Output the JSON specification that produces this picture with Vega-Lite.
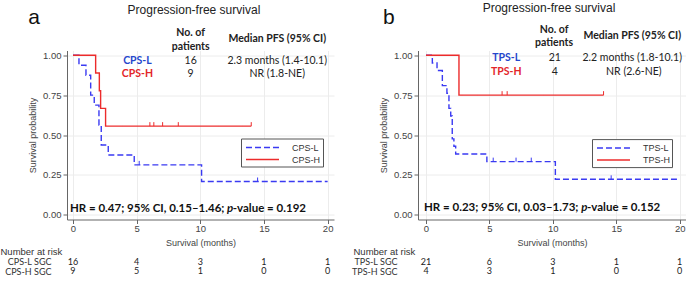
{
  "$schema": "https://vega.github.io/schema/vega-lite/v6.json",
  "padding": {"top": 1.5, "left": 0, "right": 0, "bottom": 0},
  "background": "white",
  "datasets": {
    "kmA": [
      {"group": "CPS-L", "t": 0, "s": 1},
      {"group": "CPS-L", "t": 0.47, "s": 0.9375},
      {"group": "CPS-L", "t": 1.02, "s": 0.875},
      {"group": "CPS-L", "t": 1.39, "s": 0.75},
      {"group": "CPS-L", "t": 1.67, "s": 0.6875},
      {"group": "CPS-L", "t": 2.04, "s": 0.5625},
      {"group": "CPS-L", "t": 2.22, "s": 0.4375},
      {"group": "CPS-L", "t": 2.77, "s": 0.375},
      {"group": "CPS-L", "t": 4.81, "s": 0.3125},
      {"group": "CPS-L", "t": 10.1, "s": 0.2083},
      {"group": "CPS-L", "t": 20, "s": 0.2083},
      {"group": "CPS-H", "t": 0, "s": 1},
      {"group": "CPS-H", "t": 1.78, "s": 0.8889},
      {"group": "CPS-H", "t": 2.07, "s": 0.7778},
      {"group": "CPS-H", "t": 2.17, "s": 0.6667},
      {"group": "CPS-H", "t": 2.56, "s": 0.5556},
      {"group": "CPS-H", "t": 14.0, "s": 0.5556}
    ],
    "censA": [
      {"group": "CPS-H", "t": 6.04, "s": 0.5556},
      {"group": "CPS-H", "t": 6.35, "s": 0.5556},
      {"group": "CPS-H", "t": 7.04, "s": 0.5556},
      {"group": "CPS-H", "t": 8.27, "s": 0.5556},
      {"group": "CPS-H", "t": 14.0, "s": 0.5556},
      {"group": "CPS-L", "t": 5.2, "s": 0.3125},
      {"group": "CPS-L", "t": 14.5, "s": 0.2083}
    ],
    "kmB": [
      {"group": "TPS-L", "t": 0, "s": 1},
      {"group": "TPS-L", "t": 0.5, "s": 0.952},
      {"group": "TPS-L", "t": 0.87, "s": 0.905},
      {"group": "TPS-L", "t": 1.29, "s": 0.81},
      {"group": "TPS-L", "t": 1.65, "s": 0.762},
      {"group": "TPS-L", "t": 1.81, "s": 0.667},
      {"group": "TPS-L", "t": 1.95, "s": 0.619},
      {"group": "TPS-L", "t": 2.07, "s": 0.476},
      {"group": "TPS-L", "t": 2.2, "s": 0.429},
      {"group": "TPS-L", "t": 2.34, "s": 0.381},
      {"group": "TPS-L", "t": 4.8, "s": 0.333},
      {"group": "TPS-L", "t": 10.2, "s": 0.222},
      {"group": "TPS-L", "t": 20, "s": 0.222},
      {"group": "TPS-H", "t": 0, "s": 1},
      {"group": "TPS-H", "t": 2.6, "s": 0.75},
      {"group": "TPS-H", "t": 14.0, "s": 0.75}
    ],
    "censB": [
      {"group": "TPS-H", "t": 6.0, "s": 0.75},
      {"group": "TPS-H", "t": 6.4, "s": 0.75},
      {"group": "TPS-H", "t": 14.0, "s": 0.75},
      {"group": "TPS-L", "t": 5.3, "s": 0.333},
      {"group": "TPS-L", "t": 7.1, "s": 0.333},
      {"group": "TPS-L", "t": 8.3, "s": 0.333},
      {"group": "TPS-L", "t": 14.6, "s": 0.222}
    ],
    "tabA": [
      {"kind": "letter", "t": -3.06, "s": 1.197, "label": "a"},
      {"kind": "title", "t": 9.5, "s": 1.285, "label": "Progression-free survival"},
      {"kind": "head", "t": 9.24, "s": 1.139, "label": "No. of"},
      {"kind": "head", "t": 9.24, "s": 1.055, "label": "patients"},
      {"kind": "head", "t": 16.04, "s": 1.101, "label": "Median PFS (95% CI)"},
      {"kind": "gL", "t": 5.06, "s": 0.962, "label": "CPS-L"},
      {"kind": "gH", "t": 5.06, "s": 0.884, "label": "CPS-H"},
      {"kind": "body", "t": 9.24, "s": 0.962, "label": "16"},
      {"kind": "body", "t": 9.24, "s": 0.884, "label": "9"},
      {"kind": "body", "t": 16.04, "s": 0.962, "label": "2.3 months (1.4-10.1)"},
      {"kind": "body", "t": 16.04, "s": 0.884, "label": "NR (1.8-NE)"},
      {"kind": "hr", "t": -0.24, "s": 0.038, "label": "HR = 0.47; 95% CI, 0.15–1.46;"},
      {"kind": "hrp", "t": 12.1, "s": 0.038, "label": "p"},
      {"kind": "hrv", "t": 12.55, "s": 0.038, "label": "-value = 0.192"}
    ],
    "tabB": [
      {"kind": "letter", "t": -2.92, "s": 1.197, "label": "b"},
      {"kind": "title", "t": 9.7, "s": 1.296, "label": "Progression-free survival"},
      {"kind": "head", "t": 10.1, "s": 1.16, "label": "No. of"},
      {"kind": "head", "t": 10.1, "s": 1.076, "label": "patients"},
      {"kind": "head", "t": 16.26, "s": 1.122, "label": "Median PFS (95% CI)"},
      {"kind": "gL", "t": 6.33, "s": 0.982, "label": "TPS-L"},
      {"kind": "gH", "t": 6.33, "s": 0.898, "label": "TPS-H"},
      {"kind": "body", "t": 10.15, "s": 0.982, "label": "21"},
      {"kind": "body", "t": 10.15, "s": 0.898, "label": "4"},
      {"kind": "body", "t": 16.26, "s": 0.982, "label": "2.2 months (1.8-10.1)"},
      {"kind": "body", "t": 16.39, "s": 0.898, "label": "NR (2.6-NE)"},
      {"kind": "hr", "t": -0.16, "s": 0.04, "label": "HR = 0.23; 95% CI, 0.03–1.73;"},
      {"kind": "hrp", "t": 12.25, "s": 0.04, "label": "p"},
      {"kind": "hrv", "t": 12.7, "s": 0.04, "label": "-value = 0.152"}
    ],
    "riskA": [
      {"row": "CPS-L SGC", "t": 0, "n": 16},
      {"row": "CPS-L SGC", "t": 5, "n": 4},
      {"row": "CPS-L SGC", "t": 10, "n": 3},
      {"row": "CPS-L SGC", "t": 15, "n": 1},
      {"row": "CPS-L SGC", "t": 20, "n": 1},
      {"row": "CPS-H SGC", "t": 0, "n": 9},
      {"row": "CPS-H SGC", "t": 5, "n": 5},
      {"row": "CPS-H SGC", "t": 10, "n": 1},
      {"row": "CPS-H SGC", "t": 15, "n": 0},
      {"row": "CPS-H SGC", "t": 20, "n": 0}
    ],
    "riskB": [
      {"row": "TPS-L SGC", "t": 0, "n": 21},
      {"row": "TPS-L SGC", "t": 5, "n": 6},
      {"row": "TPS-L SGC", "t": 10, "n": 3},
      {"row": "TPS-L SGC", "t": 15, "n": 1},
      {"row": "TPS-L SGC", "t": 20, "n": 1},
      {"row": "TPS-H SGC", "t": 0, "n": 4},
      {"row": "TPS-H SGC", "t": 5, "n": 3},
      {"row": "TPS-H SGC", "t": 10, "n": 1},
      {"row": "TPS-H SGC", "t": 15, "n": 0},
      {"row": "TPS-H SGC", "t": 20, "n": 0}
    ]
  },
  "columns": 2,
  "align": "each",
  "spacing": {"row": -1.5, "column": 17},
  "resolve": {"scale": {"color": "independent", "strokeDash": "independent"}, "legend": {"color": "independent", "strokeDash": "independent"}},
  "concat": [
    {
      "width": 267,
      "height": 169,
      "encoding": {
        "x": {"field": "t", "type": "quantitative", "scale": {"domain": [-0.47, 20.5], "nice": false, "zero": false}, "axis": {"values": [0, 5, 10, 15, 20], "title": "Survival (months)"}},
        "y": {"field": "s", "type": "quantitative", "scale": {"domain": [-0.03, 1.03], "nice": false, "zero": false}, "axis": {"values": [0, 0.25, 0.5, 0.75, 1], "format": ".2f", "title": "Survival probability", "grid": true}}
      },
      "layer": [
        {
          "data": {"name": "kmA"},
          "mark": {"type": "line", "interpolate": "step-after", "strokeWidth": 1.4},
          "encoding": {
            "color": {"field": "group", "type": "nominal", "scale": {"domain": ["CPS-L", "CPS-H"], "range": ["#3a3af2", "#ec2b2b"]},
              "legend": {"title": null, "orient": "none", "legendX": 174, "legendY": 88, "symbolType": "M-0.667,0H4.833", "symbolSize": 144, "symbolStrokeWidth": 1.5, "labelOffset": 35, "padding": 2, "strokeColor": "#555", "fillColor": "#fff", "labelFont": "Liberation Sans", "labelFontSize": 9, "labelColor": "#333", "rowPadding": 0}},
            "strokeDash": {"field": "group", "type": "nominal", "scale": {"domain": ["CPS-L", "CPS-H"], "range": [[6, 3], [1, 0]]},
              "legend": {"title": null, "orient": "none", "legendX": 174, "legendY": 88, "symbolType": "M-0.667,0H4.833", "symbolSize": 144, "symbolStrokeWidth": 1.5, "labelOffset": 35, "padding": 2, "strokeColor": "#555", "fillColor": "#fff", "labelFont": "Liberation Sans", "labelFontSize": 9, "labelColor": "#333", "rowPadding": 0}}
          }
        },
        {
          "data": {"name": "censA"},
          "transform": [{"filter": "datum.group == 'CPS-H'"}],
          "mark": {"type": "point", "shape": "M0,-1V0", "size": 64, "filled": false, "color": "#ec2b2b", "strokeWidth": 1, "opacity": 1}
        },
        {
          "data": {"name": "censA"},
          "transform": [{"filter": "datum.group == 'CPS-L'"}],
          "mark": {"type": "point", "shape": "M0,-1V0", "size": 64, "filled": false, "color": "#3a3af2", "strokeWidth": 1, "opacity": 1}
        },
        {
          "data": {"name": "tabA"},
          "transform": [{"filter": "datum.kind == 'letter'"}],
          "mark": {"type": "text", "font": "Liberation Sans", "fontSize": 21, "baseline": "alphabetic", "align": "center", "color": "#111"},
          "encoding": {"text": {"field": "label"}}
        },
        {
          "data": {"name": "tabA"},
          "transform": [{"filter": "datum.kind == 'title'"}],
          "mark": {"type": "text", "font": "Liberation Sans", "fontSize": 12, "baseline": "middle", "align": "center", "color": "#222"},
          "encoding": {"text": {"field": "label"}}
        },
        {
          "data": {"name": "tabA"},
          "transform": [{"filter": "datum.kind == 'head'"}],
          "mark": {"type": "text", "font": "Lato", "fontSize": 10.5, "fontWeight": "bold", "baseline": "middle", "align": "center", "color": "#222"},
          "encoding": {"text": {"field": "label"}}
        },
        {
          "data": {"name": "tabA"},
          "transform": [{"filter": "datum.kind == 'gL'"}],
          "mark": {"type": "text", "font": "Lato", "fontSize": 10.5, "fontWeight": "bold", "baseline": "middle", "align": "center", "color": "#2546cc"},
          "encoding": {"text": {"field": "label"}}
        },
        {
          "data": {"name": "tabA"},
          "transform": [{"filter": "datum.kind == 'gH'"}],
          "mark": {"type": "text", "font": "Lato", "fontSize": 10.5, "fontWeight": "bold", "baseline": "middle", "align": "center", "color": "#e3262a"},
          "encoding": {"text": {"field": "label"}}
        },
        {
          "data": {"name": "tabA"},
          "transform": [{"filter": "datum.kind == 'body'"}],
          "mark": {"type": "text", "font": "Lato", "fontSize": 10.5, "baseline": "middle", "align": "center", "color": "#222"},
          "encoding": {"text": {"field": "label"}}
        },
        {
          "data": {"name": "tabA"},
          "transform": [{"filter": "datum.kind == 'hr'"}],
          "mark": {"type": "text", "font": "Lato", "fontSize": 11.5, "fontWeight": "bold", "baseline": "middle", "align": "left", "color": "#111"},
          "encoding": {"text": {"field": "label"}}
        },
        {
          "data": {"name": "tabA"},
          "transform": [{"filter": "datum.kind == 'hrp'"}],
          "mark": {"type": "text", "font": "Lato", "fontSize": 11.5, "fontWeight": "bold", "fontStyle": "italic", "baseline": "middle", "align": "left", "color": "#111"},
          "encoding": {"text": {"field": "label"}}
        },
        {
          "data": {"name": "tabA"},
          "transform": [{"filter": "datum.kind == 'hrv'"}],
          "mark": {"type": "text", "font": "Lato", "fontSize": 11.5, "fontWeight": "bold", "baseline": "middle", "align": "left", "color": "#111"},
          "encoding": {"text": {"field": "label"}}
        }
      ]
    },
    {
      "width": 268,
      "height": 169,
      "encoding": {
        "x": {"field": "t", "type": "quantitative", "scale": {"domain": [-0.63, 20.5], "nice": false, "zero": false}, "axis": {"values": [0, 5, 10, 15, 20], "title": "Survival (months)"}},
        "y": {"field": "s", "type": "quantitative", "scale": {"domain": [-0.03, 1.03], "nice": false, "zero": false}, "axis": {"values": [0, 0.25, 0.5, 0.75, 1], "format": ".2f", "title": "Survival probability", "grid": true}}
      },
      "layer": [
        {
          "data": {"name": "kmB"},
          "mark": {"type": "line", "interpolate": "step-after", "strokeWidth": 1.4},
          "encoding": {
            "color": {"field": "group", "type": "nominal", "scale": {"domain": ["TPS-L", "TPS-H"], "range": ["#3a3af2", "#ec2b2b"]},
              "legend": {"title": null, "orient": "none", "legendX": 174, "legendY": 88.6, "symbolType": "M-0.667,0H4.833", "symbolSize": 144, "symbolStrokeWidth": 1.5, "labelOffset": 35, "padding": 2, "strokeColor": "#555", "fillColor": "#fff", "labelFont": "Liberation Sans", "labelFontSize": 9, "labelColor": "#333", "rowPadding": 0}},
            "strokeDash": {"field": "group", "type": "nominal", "scale": {"domain": ["TPS-L", "TPS-H"], "range": [[6, 3], [1, 0]]},
              "legend": {"title": null, "orient": "none", "legendX": 174, "legendY": 88.6, "symbolType": "M-0.667,0H4.833", "symbolSize": 144, "symbolStrokeWidth": 1.5, "labelOffset": 35, "padding": 2, "strokeColor": "#555", "fillColor": "#fff", "labelFont": "Liberation Sans", "labelFontSize": 9, "labelColor": "#333", "rowPadding": 0}}
          }
        },
        {
          "data": {"name": "censB"},
          "transform": [{"filter": "datum.group == 'TPS-H'"}],
          "mark": {"type": "point", "shape": "M0,-1V0", "size": 64, "filled": false, "color": "#ec2b2b", "strokeWidth": 1, "opacity": 1}
        },
        {
          "data": {"name": "censB"},
          "transform": [{"filter": "datum.group == 'TPS-L'"}],
          "mark": {"type": "point", "shape": "M0,-1V0", "size": 64, "filled": false, "color": "#3a3af2", "strokeWidth": 1, "opacity": 1}
        },
        {
          "data": {"name": "tabB"},
          "transform": [{"filter": "datum.kind == 'letter'"}],
          "mark": {"type": "text", "font": "Liberation Sans", "fontSize": 21, "baseline": "alphabetic", "align": "center", "color": "#111"},
          "encoding": {"text": {"field": "label"}}
        },
        {
          "data": {"name": "tabB"},
          "transform": [{"filter": "datum.kind == 'title'"}],
          "mark": {"type": "text", "font": "Liberation Sans", "fontSize": 12, "baseline": "middle", "align": "center", "color": "#222"},
          "encoding": {"text": {"field": "label"}}
        },
        {
          "data": {"name": "tabB"},
          "transform": [{"filter": "datum.kind == 'head'"}],
          "mark": {"type": "text", "font": "Lato", "fontSize": 10.5, "fontWeight": "bold", "baseline": "middle", "align": "center", "color": "#222"},
          "encoding": {"text": {"field": "label"}}
        },
        {
          "data": {"name": "tabB"},
          "transform": [{"filter": "datum.kind == 'gL'"}],
          "mark": {"type": "text", "font": "Lato", "fontSize": 10.5, "fontWeight": "bold", "baseline": "middle", "align": "center", "color": "#2546cc"},
          "encoding": {"text": {"field": "label"}}
        },
        {
          "data": {"name": "tabB"},
          "transform": [{"filter": "datum.kind == 'gH'"}],
          "mark": {"type": "text", "font": "Lato", "fontSize": 10.5, "fontWeight": "bold", "baseline": "middle", "align": "center", "color": "#e3262a"},
          "encoding": {"text": {"field": "label"}}
        },
        {
          "data": {"name": "tabB"},
          "transform": [{"filter": "datum.kind == 'body'"}],
          "mark": {"type": "text", "font": "Lato", "fontSize": 10.5, "baseline": "middle", "align": "center", "color": "#222"},
          "encoding": {"text": {"field": "label"}}
        },
        {
          "data": {"name": "tabB"},
          "transform": [{"filter": "datum.kind == 'hr'"}],
          "mark": {"type": "text", "font": "Lato", "fontSize": 11.5, "fontWeight": "bold", "baseline": "middle", "align": "left", "color": "#111"},
          "encoding": {"text": {"field": "label"}}
        },
        {
          "data": {"name": "tabB"},
          "transform": [{"filter": "datum.kind == 'hrp'"}],
          "mark": {"type": "text", "font": "Lato", "fontSize": 11.5, "fontWeight": "bold", "fontStyle": "italic", "baseline": "middle", "align": "left", "color": "#111"},
          "encoding": {"text": {"field": "label"}}
        },
        {
          "data": {"name": "tabB"},
          "transform": [{"filter": "datum.kind == 'hrv'"}],
          "mark": {"type": "text", "font": "Lato", "fontSize": 11.5, "fontWeight": "bold", "baseline": "middle", "align": "left", "color": "#111"},
          "encoding": {"text": {"field": "label"}}
        }
      ]
    },
    {
      "width": 267,
      "height": 19,
      "data": {"name": "riskA"},
      "mark": {"type": "text", "font": "Lato", "fontSize": 9, "color": "#222", "baseline": "middle"},
      "encoding": {
        "x": {"field": "t", "type": "quantitative", "scale": {"domain": [-0.47, 20.5], "nice": false, "zero": false}, "axis": null},
        "y": {"field": "row", "type": "nominal", "sort": null, "scale": {"domain": ["CPS-L SGC", "CPS-H SGC"]},
          "axis": {"title": "Number at risk", "titleAngle": 0, "titleAlign": "left", "titleBaseline": "middle", "titleX": -67, "titleY": -5.5, "titleFontSize": 9.5, "titleColor": "#333", "domain": false, "ticks": false, "tickSize": 0, "labelPadding": 16, "labelFont": "Lato", "labelFontSize": 9, "labelColor": "#333", "grid": false}},
        "text": {"field": "n", "type": "quantitative"}
      }
    },
    {
      "width": 268,
      "height": 19,
      "data": {"name": "riskB"},
      "mark": {"type": "text", "font": "Lato", "fontSize": 9, "color": "#222", "baseline": "middle"},
      "encoding": {
        "x": {"field": "t", "type": "quantitative", "scale": {"domain": [-0.63, 20.5], "nice": false, "zero": false}, "axis": null},
        "y": {"field": "row", "type": "nominal", "sort": null, "scale": {"domain": ["TPS-L SGC", "TPS-H SGC"]},
          "axis": {"title": "Number at risk", "titleAngle": 0, "titleAlign": "left", "titleBaseline": "middle", "titleX": -65, "titleY": -5.5, "titleFontSize": 9.5, "titleColor": "#333", "domain": false, "ticks": false, "tickSize": 0, "labelPadding": 21, "labelFont": "Lato", "labelFontSize": 9, "labelColor": "#333", "grid": false}},
        "text": {"field": "n", "type": "quantitative"}
      }
    }
  ],
  "config": {
    "view": {"stroke": null},
    "axis": {"labelFont": "Liberation Sans", "labelFontSize": 9.5, "labelColor": "#444", "titleFont": "Liberation Sans", "titleFontSize": 9, "titleFontWeight": "normal", "titleColor": "#444", "tickColor": "#666", "domainColor": "#666", "tickSize": 4, "gridColor": "#ececec"},
    "axisX": {"labelPadding": 0, "titlePadding": 5},
    "axisY": {"labelPadding": 2, "titlePadding": 5}
  }
}
